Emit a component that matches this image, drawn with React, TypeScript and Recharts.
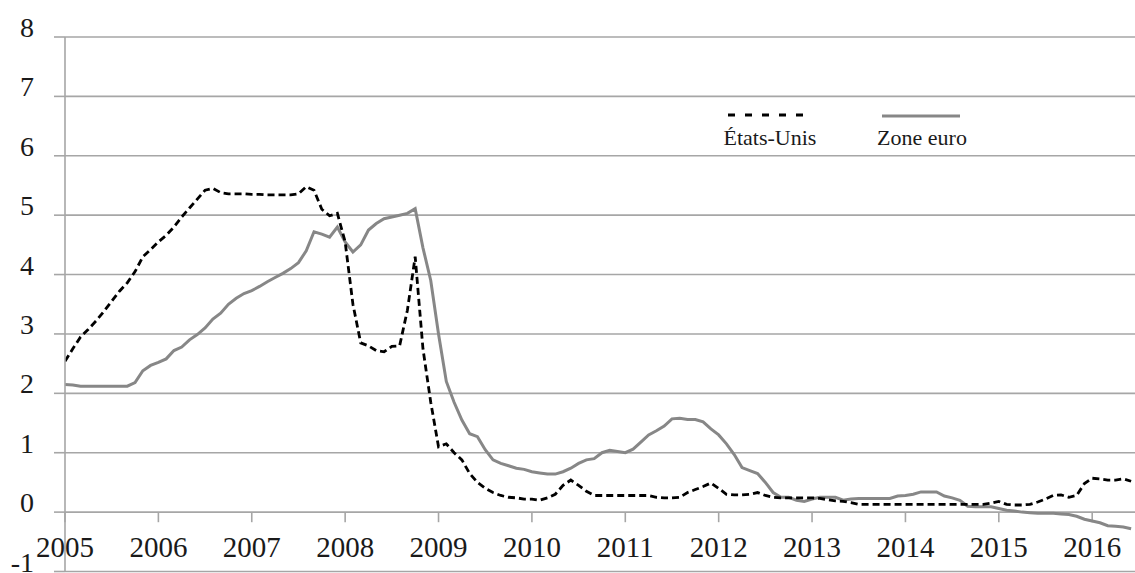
import React from "react";
import {
  LineChart,
  Line,
  XAxis,
  YAxis,
  CartesianGrid,
  ReferenceLine,
  Legend,
} from "recharts";

// Monthly rates, Jan 2005 .. Jun 2016 (one row per year)
const usRates: number[] = [
  // 2005
  2.54, 2.75, 2.95, 3.08, 3.22, 3.38, 3.55, 3.72, 3.86, 4.05, 4.3, 4.42,
  // 2006
  4.55, 4.66, 4.8, 4.97, 5.12, 5.27, 5.42, 5.45, 5.38, 5.36, 5.36, 5.36,
  // 2007
  5.35, 5.35, 5.34, 5.34, 5.34, 5.34, 5.36, 5.48, 5.42, 5.1, 4.99, 5.03,
  // 2008
  4.55, 3.5, 2.85, 2.8, 2.72, 2.7, 2.79, 2.8, 3.4, 4.3, 2.75, 1.85,
  // 2009
  1.1, 1.15, 1.0, 0.88, 0.65, 0.5, 0.4, 0.33, 0.28, 0.25, 0.24, 0.22,
  // 2010
  0.22, 0.2, 0.24, 0.3, 0.45, 0.54, 0.45, 0.35, 0.28, 0.28, 0.28, 0.28,
  // 2011
  0.28, 0.28, 0.28, 0.28, 0.25, 0.24, 0.24, 0.25, 0.33, 0.38, 0.43, 0.49,
  // 2012
  0.4, 0.3, 0.29, 0.29, 0.3, 0.33, 0.28, 0.25, 0.24, 0.24, 0.24, 0.24,
  // 2013
  0.24, 0.23, 0.21, 0.19, 0.18, 0.16, 0.13, 0.13, 0.13, 0.13, 0.13, 0.13,
  // 2014
  0.13, 0.13, 0.13, 0.13, 0.13, 0.13, 0.13, 0.13, 0.13, 0.13, 0.13, 0.15,
  // 2015
  0.18, 0.13, 0.12, 0.12, 0.13, 0.17, 0.22, 0.28, 0.29, 0.25, 0.28, 0.48,
  // 2016
  0.57, 0.56, 0.54, 0.54, 0.56, 0.52,
];

const euroRates: number[] = [
  // 2005
  2.15, 2.14, 2.12, 2.12, 2.12, 2.12, 2.12, 2.12, 2.12, 2.18, 2.38, 2.47,
  // 2006
  2.52, 2.58, 2.72, 2.78, 2.9, 2.99, 3.1, 3.25, 3.35, 3.5, 3.6, 3.68,
  // 2007
  3.73, 3.8, 3.88, 3.95, 4.02, 4.1, 4.2, 4.4, 4.72, 4.68, 4.63, 4.8,
  // 2008
  4.55, 4.38, 4.5, 4.75, 4.86, 4.94, 4.97, 5.0, 5.03, 5.11, 4.45, 3.9,
  // 2009
  3.0, 2.2, 1.85, 1.55, 1.32, 1.27, 1.05, 0.88, 0.82, 0.78, 0.74, 0.72,
  // 2010
  0.68, 0.66, 0.64, 0.64, 0.68, 0.74, 0.82, 0.88, 0.9, 1.0, 1.04, 1.02,
  // 2011
  1.0, 1.06, 1.18, 1.3, 1.37, 1.45, 1.57, 1.58, 1.56, 1.56, 1.52, 1.4,
  // 2012
  1.3, 1.15, 0.97, 0.75, 0.7, 0.65, 0.5, 0.33, 0.25, 0.25, 0.2, 0.18,
  // 2013
  0.22, 0.25, 0.25, 0.25, 0.2, 0.22, 0.23, 0.23, 0.23, 0.23, 0.23, 0.27,
  // 2014
  0.28, 0.3, 0.34, 0.34, 0.34, 0.27, 0.24, 0.2, 0.1, 0.09, 0.09, 0.09,
  // 2015
  0.06, 0.03, 0.02, 0.0, -0.01, -0.02, -0.02, -0.02, -0.03, -0.04, -0.07, -0.12,
  // 2016
  -0.15, -0.18, -0.23, -0.24, -0.25, -0.28,
];

const yearLabels: string[] = [
  "2005", "2006", "2007", "2008", "2009", "2010",
  "2011", "2012", "2013", "2014", "2015", "2016",
];
const yTicks: number[] = [-1, 0, 1, 2, 3, 4, 5, 6, 7, 8];

const seriesNames = { us: "États-Unis", eu: "Zone euro" };

const data = usRates.map((v, i) => ({ m: i, us: v, eu: euroRates[i] }));
const yearTicks = yearLabels.map((_, i) => i * 12);

const FONT = "'Liberation Serif', 'Times New Roman', 'DejaVu Serif', serif";
const GRID = "#a6a6a6";
const TEXT = "#1a1a1a";

const XTick = (props: any) => {
  const { x, y, payload } = props;
  return (
    <text
      x={x}
      y={y - 14.5}
      textAnchor="middle"
      style={{ fontFamily: FONT, fontSize: 29 }}
      fill={TEXT}
    >
      {yearLabels[Math.round(payload.value / 12)]}
    </text>
  );
};

const YTick = (props: any) => {
  const { x, y, payload } = props;
  return (
    <text
      x={x}
      y={y}
      textAnchor="end"
      style={{ fontFamily: FONT, fontSize: 28 }}
      fill={TEXT}
    >
      {payload.value}
    </text>
  );
};

const LegendContent = (props: any) => {
  const payload = props.payload || [];
  const us = payload.find((p: any) => p.dataKey === "us");
  const eu = payload.find((p: any) => p.dataKey === "eu");
  return (
    <svg width={300} height={60} style={{ display: "block" }}>
      <line
        x1={28}
        x2={108}
        y1={20}
        y2={20}
        stroke={us ? us.color : "#000"}
        strokeWidth={3}
        strokeDasharray="7 10"
      />
      <text x={70} y={50} textAnchor="middle" style={{ fontFamily: FONT, fontSize: 22 }} fill={TEXT}>
        {us ? us.value : seriesNames.us}
      </text>
      <line
        x1={182}
        x2={260}
        y1={21}
        y2={21}
        stroke={eu ? eu.color : "#888"}
        strokeWidth={3}
      />
      <text x={222} y={50} textAnchor="middle" style={{ fontFamily: FONT, fontSize: 22 }} fill={TEXT}>
        {eu ? eu.value : seriesNames.eu}
      </text>
    </svg>
  );
};

export default function App() {
  return (
    <div style={{ position: "absolute", left: 0, top: 0, width: 1135, height: 573, background: "#fff" }}>
      <LineChart
        width={1135}
        height={573}
        data={data}
        margin={{ top: 37, right: 0, bottom: 0, left: 0 }}
      >
        <CartesianGrid horizontal vertical={false} stroke={GRID} strokeWidth={1.6} />
        <XAxis
          dataKey="m"
          type="number"
          domain={[0, 137.5]}
          ticks={yearTicks}
          interval={0}
          height={1.5}
          axisLine={false}
          tickLine={false}
          tickSize={0}
          tickMargin={0}
          tick={<XTick />}
          allowDataOverflow
        />
        <YAxis
          type="number"
          domain={[-1, 8]}
          ticks={yTicks}
          interval={0}
          width={65}
          axisLine={{ stroke: GRID, strokeWidth: 1.6 }}
          tickLine={{ stroke: GRID, strokeWidth: 1.6 }}
          tickSize={11}
          tickMargin={20}
          tick={<YTick />}
          allowDataOverflow
        />
        {yearTicks.map((t) => (
          <ReferenceLine
            key={t}
            segment={[
              { x: t, y: 0 },
              { x: t, y: -0.17 },
            ]}
            stroke={GRID}
            strokeWidth={1.6}
          />
        ))}
        <Legend
          layout="horizontal"
          verticalAlign="middle"
          align="center"
          content={<LegendContent />}
          wrapperStyle={{ position: "absolute", left: 700, top: 95, width: 300, height: 60 }}
        />
        <Line
          dataKey="eu"
          name={seriesNames.eu}
          type="linear"
          stroke="#878787"
          strokeWidth={3}
          dot={false}
          isAnimationActive={false}
        />
        <Line
          dataKey="us"
          name={seriesNames.us}
          type="linear"
          stroke="#000000"
          strokeWidth={2.8}
          strokeDasharray="7 4"
          dot={false}
          isAnimationActive={false}
        />
      </LineChart>
    </div>
  );
}
